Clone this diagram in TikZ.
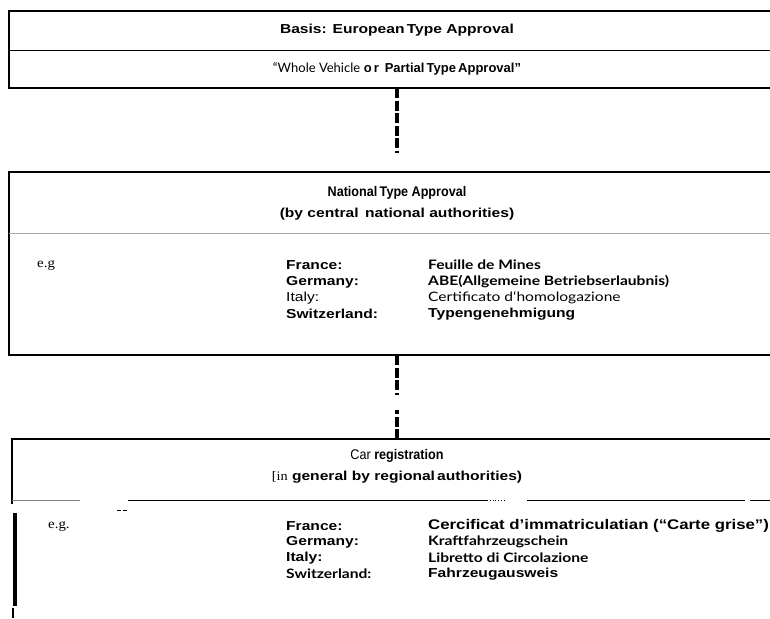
\documentclass[tikz,border=0pt]{standalone}
\usepackage{fontspec}
\setmainfont{Liberation Sans}[FakeStretch=1.2]
\newfontfamily\plainfont{Liberation Sans}
\newfontfamily\narrowfont{Liberation Sans}[FakeStretch=0.9]
\newfontfamily\gillfont{Lato}[FakeStretch=1.2]
\newfontfamily\gillplain{Lato}
\newfontfamily\romfont{Liberation Serif}[FakeStretch=1.1]
\usepackage{tikz}

\begin{document}
\begin{tikzpicture}[x=1pt,y=-1pt,
  frame/.style={line width=2.6pt},
  divider/.style={line width=0.8pt},
  link/.style={line width=3.6pt, dash pattern=on 10pt off 2.5pt},
  head/.style={font=\bfseries\fontsize{13}{21}\selectfont, align=center, inner sep=0pt},
  row/.style={font=\bfseries\fontsize{13}{14}\selectfont, anchor=west, inner sep=0pt},
  eg/.style={font=\romfont\fontsize{13.5}{14}\selectfont, anchor=west, inner sep=0pt}]
\useasboundingbox (0,0) rectangle (770,618);

% European type approval
\draw[frame] (785,11) -- (9,11) -- (9,88) -- (785,88);
\draw[divider] (9,50) -- (785,50);
\node[head] (basis) at (397,30) {Basis: European\,Type Approval};
\node[head, font=\plainfont\bfseries\fontsize{13}{14}\selectfont] (whole) at (397,69) {{\gillplain\mdseries “Whole Vehicle} o\,r\, Partial\,Type\,Approval”};
\coordinate (eu) at (397,88);

% National type approval
\draw[frame] (785,172) -- (9,172) -- (9,355) -- (785,355);
\draw[divider, gray!70] (9,233) -- (785,233);
\node[head] (nat) at (397,203) {{\narrowfont\fontsize{14}{14}\selectfont National\,Type Approval}\\(by central\, national authorities)};
\coordinate (natbot) at (397,355);

\node[eg] (eg1) at (37,265) {e.g};
\node[row] (fr1) at (286,265) {France:};
\node[row] (de1) at (286,282) {Germany:};
\node[row, font=\mdseries\fontsize{13}{14}\selectfont] (it1) at (286,298) {Italy:};
\node[row] (ch1) at (286,314) {Switzerland:};
\node[row, font=\gillfont\bfseries\fontsize{13}{14}\selectfont] (fr1v) at (428,265) {Feuille de Mines};
\node[row, font=\gillfont\bfseries\fontsize{13}{14}\selectfont] (de1v) at (428,282) {ABE(Allgemeine Betriebserlaubnis)};
\node[row, font=\gillfont\fontsize{13}{14}\selectfont] (it1v) at (428,298) {Certificato d‘homologazione};
\node[row] (ch1v) at (428,314) {Typengenehmigung};

% Car registration
\draw[frame] (785,439) -- (12,439) -- (12,504);
\draw[frame, line width=3.2pt] (15,513) -- (15,606);
\draw[frame] (13,608) -- (13,618);
\draw[divider, gray] (12,500) -- (80,500);
\draw[divider] (128,500) -- (487,500);
\draw[divider, dotted] (487,500) -- (505,500);
\draw[divider] (527,500) -- (745,500);
\draw[divider] (750,500) -- (770,500);
\draw[divider] (117,510) -- (121,510) (123,510) -- (127,510);
\node[head] (car) at (397,466) {{\narrowfont\fontsize{14}{14}\selectfont{\mdseries Car} registration}\\{\romfont\mdseries[in} general by regional\,authorities)};
\coordinate (cartop) at (397,439);

\node[eg] (eg2) at (48,526) {e.g.};
\node[row] (fr2) at (286,526) {France:};
\node[row] (de2) at (286,542) {Germany:};
\node[row] (it2) at (286,558) {Italy:};
\node[row, font=\gillfont\bfseries\fontsize{13}{14}\selectfont] (ch2) at (286,574) {Switzerland:};
\node[row, font=\bfseries\fontsize{14}{14}\selectfont] (fr2v) at (428,526) {Cercificat d’immatriculatian (“Carte grise”)};
\node[row, font=\gillfont\bfseries\fontsize{13}{14}\selectfont] (de2v) at (428,542) {Kraftfahrzeugschein};
\node[row, font=\gillfont\bfseries\fontsize{13}{14}\selectfont] (it2v) at (428,558) {Libretto di Circolazione};
\node[row] (ch2v) at (428,574) {Fahrzeugausweis};

% Links
\draw[link] (eu) -- ++(0,65);
\draw[link] (natbot) -- ++(0,40);
\draw[link] (cartop) -- ++(0,-29);
\end{tikzpicture}
\end{document}
